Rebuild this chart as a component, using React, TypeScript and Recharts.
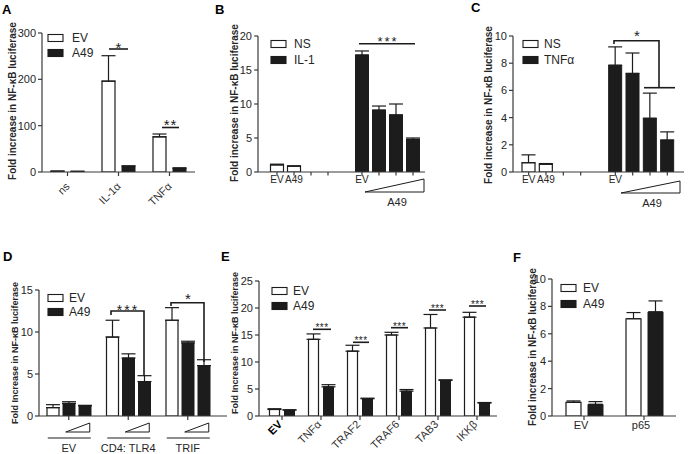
import React from 'react';
import { BarChart, Bar, XAxis, YAxis, ErrorBar, Cell } from 'recharts';

const W = 688;
const H = 454;
const FONT = '"Liberation Sans", Arial, Helvetica, sans-serif';
const INK = '#1c1c1c';
const AXIS = '#3a3a3a';
const TXT = '#262626';

// ---------- Panel A ----------
const aCategories = ['ns', 'IL-1α', 'TNFα'];
const aEV = [1.5, 196, 76];
const aEVErr = [0.5, 55, 6];
const aA49 = [1.2, 12, 8];
const aA49Err = [0.4, 1.5, 1];
const aTicks = [0, 100, 200, 300];

// ---------- Panel B ----------
const bNSLabels = ['EV', 'A49'];
const bNS = [1.05, 0.85];
const bNSErr = [0.1, 0.05];
const bStimLabel = 'EV';
const bIL1 = [17.2, 9.1, 8.4, 4.8];
const bIL1Err = [0.6, 0.6, 1.6, 0.2];
const bTicks = [0, 5, 10, 15, 20];

// ---------- Panel C ----------
const cNSLabels = ['EV', 'A49'];
const cNS = [0.68, 0.57];
const cNSErr = [0.58, 0.05];
const cStimLabel = 'EV';
const cTNF = [7.85, 7.25, 3.95, 2.35];
const cTNFErr = [1.35, 1.5, 1.85, 0.6];
const cTicks = [0, 2, 4, 6, 8, 10];

// ---------- Panel D ----------
const dGroups = ['EV', 'CD4: TLR4', 'TRIF'];
const dEV = [1.0, 9.4, 11.4];
const dEVErr = [0.35, 2.0, 1.5];
const dA49Low = [1.5, 6.9, 8.7];
const dA49LowErr = [0.2, 0.5, 0.2];
const dA49High = [1.22, 4.1, 6.0];
const dA49HighErr = [0.05, 0.7, 0.7];
const dTicks = [0, 5, 10, 15];

// ---------- Panel E ----------
const eCategories = ['EV', 'TNFα', 'TRAF2', 'TRAF6', 'TAB3', 'IKKβ'];
const eEV = [1.2, 14.2, 12.0, 15.0, 16.3, 18.3];
const eEVErr = [0.15, 1.0, 1.1, 0.5, 2.5, 0.9];
const eA49 = [1.1, 5.4, 3.2, 4.6, 6.6, 2.4];
const eA49Err = [0.05, 0.4, 0.1, 0.3, 0.1, 0.1];
const eTicks = [0, 5, 10, 15, 20, 25];

// ---------- Panel F ----------
const fCategories = ['EV', 'p65'];
const fEV = [1.0, 7.1];
const fEVErr = [0.1, 0.45];
const fA49 = [0.85, 7.6];
const fA49Err = [0.2, 0.8];
const fTicks = [0, 2, 4, 6, 8, 10];

// ---------- helpers ----------
const up = (e: number) => [0, e];

type Rect = { x0: number; x1: number; y0: number; y1: number };
const RA: Rect = { x0: 42, x1: 195, y0: 33, y1: 172 };
const RB: Rect = { x0: 258, x1: 425, y0: 36, y1: 172 };
const RC: Rect = { x0: 513, x1: 684, y0: 36, y1: 172 };
const RD: Rect = { x0: 39, x1: 227, y0: 290, y1: 416 };
const RE: Rect = { x0: 259, x1: 497, y0: 281, y1: 416 };
const RF: Rect = { x0: 552, x1: 676, y0: 279, y1: 416 };

const YW = 30;
const XH = 20;
const margin = (r: Rect) => ({ top: r.y0, left: r.x0 - YW, right: W - r.x1, bottom: H - r.y1 - XH });

const aData = aCategories.map((c, i) => ({
  cat: c, ev: aEV[i], evErr: up(aEVErr[i]), a49: aA49[i], a49Err: up(aA49Err[i]),
}));
const dData = dGroups.map((c, i) => ({
  cat: c, ev: dEV[i], evErr: up(dEVErr[i]),
  lo: dA49Low[i], loErr: up(dA49LowErr[i]),
  hi: dA49High[i], hiErr: up(dA49HighErr[i]),
}));
const eData = eCategories.map((c, i) => ({
  cat: c, ev: eEV[i], evErr: up(eEVErr[i]), a49: eA49[i], a49Err: up(eA49Err[i]),
}));
const fData = fCategories.map((c, i) => ({
  cat: c, ev: fEV[i], evErr: up(fEVErr[i]), a49: fA49[i], a49Err: up(fA49Err[i]),
}));

type SlotRow = { slot: string; label: string; value: number | null; err: number[] | null; open: boolean; tick: boolean };
function buildSlots(ns: number[], nsErr: number[], nsLabels: string[], stim: number[], stimErr: number[], stimLabel: string): SlotRow[] {
  const rows: Omit<SlotRow, 'slot'>[] = [];
  ns.forEach((v, i) => rows.push({ label: nsLabels[i], value: v, err: up(nsErr[i]), open: true, tick: true }));
  for (let k = 0; k < 3; k++) rows.push({ label: '', value: null, err: null, open: false, tick: k < 2 });
  stim.forEach((v, i) => rows.push({ label: i === 0 ? stimLabel : '', value: v, err: up(stimErr[i]), open: false, tick: true }));
  return rows.map((r, i) => ({ ...r, slot: 's' + i }));
}
const bData = buildSlots(bNS, bNSErr, bNSLabels, bIL1, bIL1Err, bStimLabel);
const cData = buildSlots(cNS, cNSErr, cNSLabels, cTNF, cTNFErr, cStimLabel);

const renderY = (max: number, ticks: number[]) => (
  <YAxis
    type="number"
    domain={[0, max]}
    ticks={ticks}
    interval={0}
    width={YW}
    tickSize={4}
    tickMargin={2}
    axisLine={{ stroke: AXIS, strokeWidth: 1.2 }}
    tickLine={{ stroke: AXIS, strokeWidth: 1.2 }}
    tick={{ fill: TXT, fontSize: 11, fontFamily: FONT }}
    allowDataOverflow
  />
);

const xCommon = {
  type: 'category' as const,
  height: XH,
  tickSize: 0,
  tickMargin: 0,
  tickLine: false,
  interval: 0 as const,
  axisLine: { stroke: AXIS, strokeWidth: 1.2 },
};

const errProps = { width: 7, stroke: INK, strokeWidth: 1.2, direction: 'y' as const };
const openBar = { fill: '#ffffff', stroke: INK, strokeWidth: 1.2 };
const filledBar = { fill: INK, stroke: INK, strokeWidth: 1 };

const RotTick = (dx: number, dy: number, fs: number, boldFirst: boolean) => (p: any) => {
  const { x, y, payload, index } = p;
  const ax = x + dx;
  const ay = y + dy;
  const bold = boldFirst && index === 0;
  return (
    <g>
      <line x1={x} x2={x} y1={y} y2={y + 4} stroke={AXIS} strokeWidth={1.2} />
      <text x={ax} y={ay} transform={`rotate(-45 ${ax} ${ay})`} textAnchor="end" fontSize={fs}
        fontFamily={FONT} style={{ fill: bold ? '#000' : '#333' }} fontWeight={bold ? 'bold' : 'normal'}>
        {payload.value}
      </text>
    </g>
  );
};

const SlotTick = (rows: SlotRow[]) => (p: any) => {
  const { x, y, index } = p;
  const r = rows[index];
  if (!r) return <g />;
  return (
    <g>
      {r.tick && <line x1={x} x2={x} y1={y} y2={y + 3.5} stroke={AXIS} strokeWidth={1.2} />}
      {r.label && (
        <text x={x} y={y + 11} textAnchor="middle" fontSize={10} fontFamily={FONT} fill={TXT}>{r.label}</text>
      )}
    </g>
  );
};

const DTick = (p: any) => {
  const { x, y, index } = p;
  return (
    <g>
      <line x1={x} x2={x} y1={y} y2={y + 4} stroke={AXIS} strokeWidth={1.2} />
      <polygon points={`${x - 3},${y + 16} ${x + 21},${y + 7} ${x + 21},${y + 16}`} fill="#fff" stroke={INK} strokeWidth={1} />
      <line x1={x - 21} x2={x + 22} y1={y + 22} y2={y + 22} stroke={INK} strokeWidth={1} />
      <text x={x} y={y + 36} textAnchor="middle" fontSize={11} fontFamily={FONT} fill={TXT}>{dGroups[index]}</text>
    </g>
  );
};

const FTick = (p: any) => {
  const { x, y, index } = p;
  return (
    <g>
      <line x1={x} x2={x} y1={y} y2={y + 4} stroke={AXIS} strokeWidth={1.2} />
      <text x={x - 3} y={y + 13} textAnchor="middle" fontSize={11} fontFamily={FONT} fill={TXT}>{fCategories[index]}</text>
    </g>
  );
};

const Layer = ({ children }: { children: React.ReactNode }) => (
  <div style={{ position: 'absolute', left: 0, top: 0, width: W, height: H }}>{children}</div>
);

const YLabel = ({ x, y, text, fs }: { x: number; y: number; text: string; fs: number }) => (
  <text x={x} y={y} transform={`rotate(-90 ${x} ${y})`} textAnchor="middle" dominantBaseline="central"
    fontSize={fs} fontWeight="bold" fill={TXT} fontFamily={FONT}>{text}</text>
);

const LegendItem = ({ x, y, tx, label, open }: { x: number; y: number; tx: number; label: string; open: boolean }) => (
  <g>
    <rect x={x} y={y - 3.5} width={15} height={7} fill={open ? '#fff' : INK} stroke={INK} strokeWidth={1.1} />
    <text x={tx} y={y} dominantBaseline="central" fontSize={12} fontFamily={FONT} fill={TXT}>{label}</text>
  </g>
);

const Stars = ({ x, y, s, fs, ls }: { x: number; y: number; s: string; fs: number; ls?: number }) => (
  <text x={x} y={y} textAnchor="middle" fontSize={fs} fontFamily={FONT} fill={INK} letterSpacing={ls || 0}>{s}</text>
);

const Overlay = () => (
  <svg width={W} height={H} style={{ position: 'absolute', left: 0, top: 0, pointerEvents: 'none' }}>
    {[['A', 2, 14], ['B', 215, 14], ['C', 471, 12], ['D', 3, 261], ['E', 221, 261], ['F', 513, 262]].map(([t, x, y]) => (
      <text key={t as string} x={x as number} y={y as number} fontSize={13} fontWeight="bold" fontFamily={FONT} fill="#000">{t}</text>
    ))}
    <YLabel x={12} y={101} fs={10} text="Fold increase in NF-κB luciferase" />
    <YLabel x={234} y={103} fs={10} text="Fold increase in NF-κB luciferase" />
    <YLabel x={488} y={105} fs={10} text="Fold increase in NF-κB luciferase" />
    <YLabel x={15} y={353} fs={9} text="Fold Increase in NF-κB luciferase" />
    <YLabel x={235} y={343} fs={9} text="Fold Increase in NF-κB luciferase" />
    <YLabel x={532} y={347} fs={10} text="Fold increase in NF-κB luciferase" />

    <LegendItem x={48} y={38} tx={72} label="EV" open />
    <LegendItem x={48} y={53} tx={72} label="A49" open={false} />
    <LegendItem x={271} y={44} tx={294} label="NS" open />
    <LegendItem x={271} y={60} tx={294} label="IL-1" open={false} />
    <LegendItem x={523} y={44} tx={544} label="NS" open />
    <LegendItem x={523} y={60} tx={544} label="TNFα" open={false} />
    <LegendItem x={48} y={298} tx={69} label="EV" open />
    <LegendItem x={48} y={312} tx={69} label="A49" open={false} />
    <LegendItem x={272} y={291} tx={293} label="EV" open />
    <LegendItem x={272} y={306} tx={293} label="A49" open={false} />
    <LegendItem x={561} y={288} tx={583} label="EV" open />
    <LegendItem x={561} y={304} tx={583} label="A49" open={false} />

    <g stroke={INK} strokeWidth={1.6} fill="none">
      <line x1={109} x2={128} y1={49} y2={49} />
      <line x1={162} x2={179} y1={127.5} y2={127.5} />
      <line x1={359} x2={415} y1={43.7} y2={43.7} />
      <polyline points="614,44 614,40.7 659,40.7 659,87.7" />
      <line x1={644} x2={675} y1={87.7} y2={87.7} />
      <polyline points="111,315 111,311 144,311 144,376" />
      <polyline points="171,306 171,302.7 204,302.7 204,362" />
      <line x1={313} x2={331} y1={329.3} y2={329.3} />
      <line x1={353} x2={369} y1={342.3} y2={342.3} />
      <line x1={391} x2={408} y1={327.7} y2={327.7} />
      <line x1={429} x2={446} y1={310} y2={310} />
      <line x1={469} x2={486} y1={306} y2={306} />
    </g>
    <Stars x={118.5} y={53} s="*" fs={15} />
    <Stars x={170.5} y={130} s="**" fs={15} ls={1} />
    <Stars x={388} y={46} s="***" fs={13} ls={2} />
    <Stars x={637} y={41} s="*" fs={15} />
    <Stars x={128} y={315} s="***" fs={14} ls={2} />
    <Stars x={188} y={304} s="*" fs={15} />
    <Stars x={322} y={331} s="***" fs={10} ls={0.5} />
    <Stars x={361} y={344} s="***" fs={10} ls={0.5} />
    <Stars x={399.5} y={329.5} s="***" fs={10} ls={0.5} />
    <Stars x={437.5} y={312} s="***" fs={10} ls={0.5} />
    <Stars x={477.5} y={308} s="***" fs={10} ls={0.5} />

    <polygon points="365,192 424,179 424,192" fill="#fff" stroke={INK} strokeWidth={1} />
    <text x={397} y={206} textAnchor="middle" fontSize={11} fontFamily={FONT} fill={TXT}>A49</text>
    <polygon points="621,193 680,181 680,193" fill="#fff" stroke={INK} strokeWidth={1} />
    <text x={652} y={207} textAnchor="middle" fontSize={11} fontFamily={FONT} fill={TXT}>A49</text>
  </svg>
);

export default function App() {
  return (
    <div style={{ position: 'absolute', left: 0, top: 0, width: W, height: H, background: '#fff', fontFamily: FONT }}>
      <Layer>
        <BarChart width={W} height={H} data={aData} margin={margin(RA)} barSize={13} barGap={7}>
          <XAxis dataKey="cat" {...xCommon} tick={RotTick(3, 15, 11, false)} />
          {renderY(300, aTicks)}
          <Bar dataKey="ev" {...openBar} isAnimationActive={false}>
            <ErrorBar dataKey="evErr" {...errProps} />
          </Bar>
          <Bar dataKey="a49" {...filledBar} isAnimationActive={false}>
            <ErrorBar dataKey="a49Err" {...errProps} />
          </Bar>
        </BarChart>
      </Layer>
      <Layer>
        <BarChart width={W} height={H} data={bData} margin={margin(RB)} barSize={13}>
          <XAxis dataKey="slot" {...xCommon} padding={{ left: 10.5, right: 3.5 }} tick={SlotTick(bData)} />
          {renderY(20, bTicks)}
          <Bar dataKey="value" isAnimationActive={false}>
            {bData.map((r, i) => <Cell key={i} {...(r.open ? openBar : filledBar)} />)}
            <ErrorBar dataKey="err" {...errProps} />
          </Bar>
        </BarChart>
      </Layer>
      <Layer>
        <BarChart width={W} height={H} data={cData} margin={margin(RC)} barSize={13}>
          <XAxis dataKey="slot" {...xCommon} padding={{ left: 7, right: 8 }} tick={SlotTick(cData)} />
          {renderY(10, cTicks)}
          <Bar dataKey="value" isAnimationActive={false}>
            {cData.map((r, i) => <Cell key={i} {...(r.open ? openBar : filledBar)} />)}
            <ErrorBar dataKey="err" {...errProps} />
          </Bar>
        </BarChart>
      </Layer>
      <Layer>
        <BarChart width={W} height={H} data={dData} margin={margin(RD)} barSize={12} barGap={4}>
          <XAxis dataKey="cat" {...xCommon} padding={{ left: 0, right: 9.5 }} tick={DTick} />
          {renderY(15, dTicks)}
          <Bar dataKey="ev" {...openBar} isAnimationActive={false}>
            <ErrorBar dataKey="evErr" {...errProps} />
          </Bar>
          <Bar dataKey="lo" {...filledBar} isAnimationActive={false}>
            <ErrorBar dataKey="loErr" {...errProps} />
          </Bar>
          <Bar dataKey="hi" {...filledBar} isAnimationActive={false}>
            <ErrorBar dataKey="hiErr" {...errProps} />
          </Bar>
        </BarChart>
      </Layer>
      <Layer>
        <BarChart width={W} height={H} data={eData} margin={margin(RE)} barSize={10} barGap={5}>
          <XAxis dataKey="cat" {...xCommon} padding={{ left: 3.5, right: 0.5 }} tick={RotTick(1, 9, 11, true)} />
          {renderY(25, eTicks)}
          <Bar dataKey="ev" {...openBar} isAnimationActive={false}>
            <ErrorBar dataKey="evErr" {...errProps} />
          </Bar>
          <Bar dataKey="a49" {...filledBar} isAnimationActive={false}>
            <ErrorBar dataKey="a49Err" {...errProps} />
          </Bar>
        </BarChart>
      </Layer>
      <Layer>
        <BarChart width={W} height={H} data={fData} margin={margin(RF)} barSize={15} barGap={7}>
          <XAxis dataKey="cat" {...xCommon} padding={{ left: 2, right: 2 }} tick={FTick} />
          {renderY(10, fTicks)}
          <Bar dataKey="ev" {...openBar} isAnimationActive={false}>
            <ErrorBar dataKey="evErr" {...errProps} />
          </Bar>
          <Bar dataKey="a49" {...filledBar} isAnimationActive={false}>
            <ErrorBar dataKey="a49Err" {...errProps} />
          </Bar>
        </BarChart>
      </Layer>
      <Overlay />
    </div>
  );
}
